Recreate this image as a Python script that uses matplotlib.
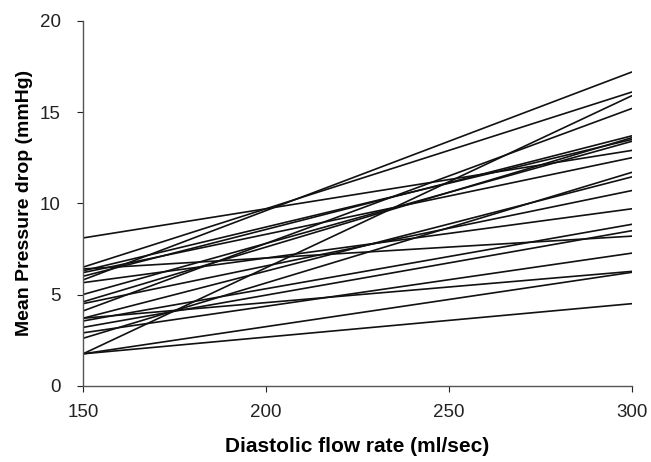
import matplotlib
matplotlib.use("Agg")
import matplotlib.pyplot as plt

flow = [150, 300]
p150 = [5.8, 6.5, 1.75, 4.1, 6.0, 4.6, 6.3, 5.0, 8.1, 6.2, 2.6, 3.7, 4.5, 5.65, 3.55, 3.2, 6.4, 2.9, 1.75, 3.7, 1.75]
p300 = [17.2, 16.1, 15.9, 15.2, 13.7, 13.6, 13.5, 13.4, 12.9, 12.5, 11.7, 11.45, 10.7, 9.7, 8.85, 8.5, 8.2, 7.27, 6.22, 6.27, 4.5]
xticks = [150, 200, 250, 300]
yticks = [0, 5, 10, 15, 20]

plt.rcParams['font.family'] = ['Liberation Sans', 'DejaVu Sans']
fig = plt.figure(figsize=(6.51, 4.62), dpi=100)
ax = fig.add_axes([0.1275, 0.165, 0.8435, 0.79])
for a, b in zip(p150, p300):
    ax.plot(flow, [a, b], color='#111111', lw=1.2, solid_capstyle='butt')
ax.set_xlim(150, 300)
ax.set_ylim(0, 20)
ax.set_xticks(xticks)
ax.set_yticks(yticks)
ax.tick_params(axis='both', labelsize=13.5, colors='#222222', length=4, width=0.8)
ax.tick_params(axis='x', pad=9)
ax.tick_params(axis='y', pad=12)
for s in ['top', 'right']:
    ax.spines[s].set_visible(False)
for s in ['left', 'bottom']:
    ax.spines[s].set_color('#555555')
    ax.spines[s].set_linewidth(1.0)
ax.set_xlabel('Diastolic flow rate (ml/sec)', fontsize=15, fontweight='bold', labelpad=12)
ax.set_ylabel('Mean Pressure drop (mmHg)', fontsize=14, fontweight='bold', labelpad=5)
fig.savefig('out.png', dpi=100)
